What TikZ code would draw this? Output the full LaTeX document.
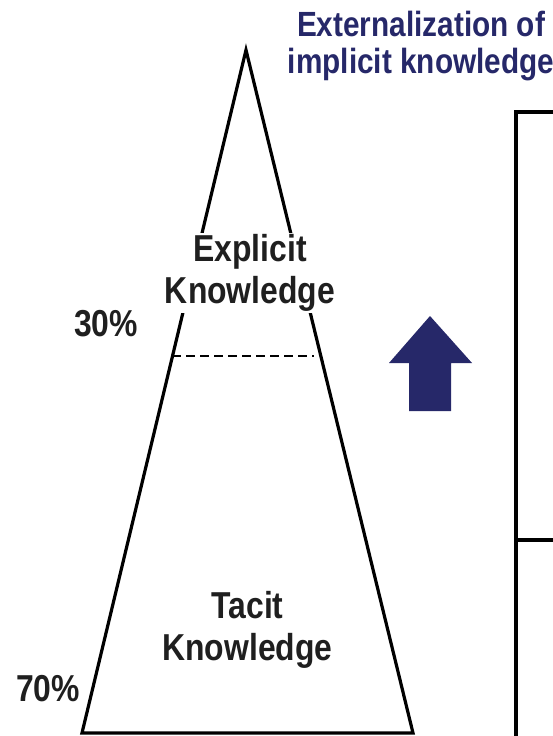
\documentclass[tikz,border=0pt]{standalone}
\usepackage{fontspec}
\setmainfont{Liberation Sans}[FakeStretch=0.85]
\usepackage{xcolor}
\usepackage{tikz}
\usetikzlibrary{positioning}
\definecolor{navyblue}{RGB}{38,40,105}

\begin{document}
\begin{tikzpicture}[x=1pt, y=-1pt, every node/.style={align=center, inner sep=0pt}, lbl/.style={font=\fontsize{37.5}{42}\selectfont\bfseries, text=black!88}, ttl/.style={font=\fontsize{35}{37}\selectfont\bfseries, text=navyblue}, thick line/.style={line width=3.2pt}]
	\useasboundingbox (0,0) rectangle (553,736);

	% pyramid
	\coordinate (apex) at (246,50);
	\coordinate (bl) at (82,733);
	\coordinate (br) at (413,733);
	\draw[thick line, line join=miter] (apex) -- (bl) -- (br) -- cycle;
	\coordinate (dl) at (172,356);
	\coordinate (dr) at (314,356);
	\draw[line width=2.6pt, dash pattern=on 9pt off 5pt] (dl) -- (dr);

	\node (expl) [lbl, fill=white, inner ysep=1pt] at (250,273) {Explicit\\Knowledge};
	\node (tac) [lbl] at (247.5,630) {Tacit\\Knowledge};
	\node (p30) [lbl, anchor=east] at (138,323.5) {30\%};
	\node (p70) [lbl, anchor=east] at (80,688.5) {70\%};

	% title and arrow
	\node (ext) [ttl] at (421,46) {Externalization of\\implicit knowledge};
	\fill[navyblue] (430,316) -- (472,363) -- (451,363) -- (451,411) -- (409,411) -- (409,363) -- (389,363) -- cycle;

	% right panel
	\coordinate (ptop) at (516,112);
	\coordinate (pmid) at (516,540);
	\coordinate (pbot) at (516,736);
	\draw[thick line] (553,112) -- (ptop) -- (pbot);
	\draw[thick line] (pmid) -- (553,540);
\end{tikzpicture}
\end{document}
